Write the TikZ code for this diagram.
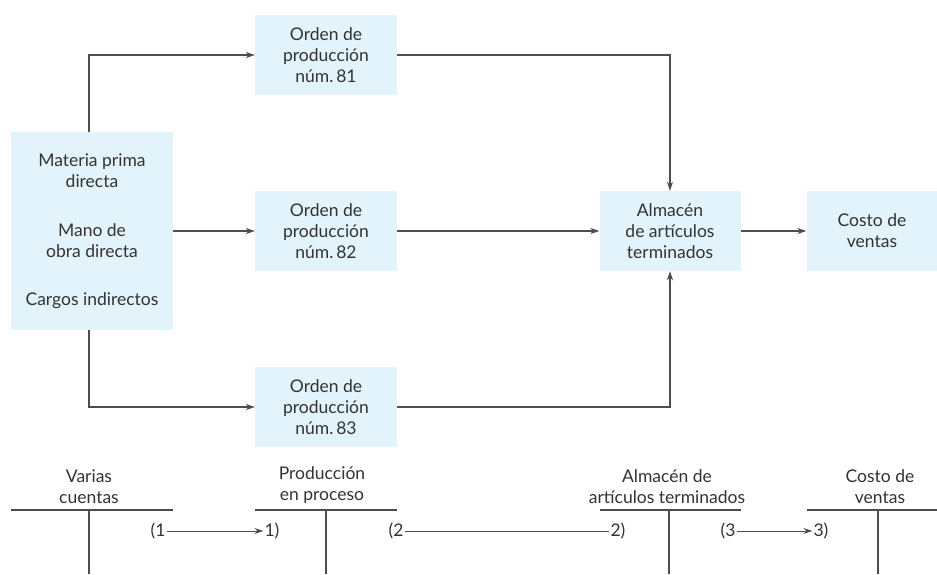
\documentclass[tikz,border=0pt]{standalone}
\usepackage{fontspec}
\setmainfont{Lato}
\usetikzlibrary{arrows.meta}
\definecolor{boxblue}{HTML}{E2F3FB}
\definecolor{ink}{HTML}{333333}
\definecolor{wire}{HTML}{4D4D4D}
\begin{document}
\begin{tikzpicture}[x=1pt,y=-1pt,
  every node/.style={text=ink,font=\fontsize{17.5}{21}\selectfont},
  blk/.style={fill=boxblue,inner sep=0pt,align=center,minimum width=142pt,minimum height=80pt},
  arr/.style={draw=wire,line width=1.3pt,-{Stealth[length=9pt,width=6pt]}},
  ln/.style={draw=wire,line width=1.3pt},
  lbl/.style={inner sep=0pt,align=center},
  tag/.style={inner sep=1pt}]
\useasboundingbox (0,0) rectangle (937,574);

% cost flow boxes
\node[blk,minimum width=162pt,minimum height=198pt] (src) at (92,231)
  {Materia prima\\directa\\[28pt]Mano de\\obra directa\\[27pt]Cargos indirectos};
\node[blk] (o81) at (326,55) {Orden de\\producción\\núm.\,81};
\node[blk] (o82) at (326,231) {Orden de\\producción\\núm.\,82};
\node[blk] (o83) at (326,407) {Orden de\\producción\\núm.\,83};
\node[blk,minimum width=141pt] (alm) at (670,231) {Almacén\\de artículos\\terminados};
\node[blk,minimum width=131pt] (cv) at (872,231) {Costo de\\ventas};

% connectors between boxes
\draw[arr] ([xshift=-3pt]src.north) |- (o81.west);
\draw[arr] (src.east) -- (o82.west);
\draw[arr] ([xshift=-3pt]src.south) |- (o83.west);
\draw[arr] (o81.east) -| (alm.north);
\draw[arr] (o82.east) -- (alm.west);
\draw[arr] (o83.east) -| (alm.south);
\draw[arr] (alm.east) -- (cv.west);

% T-accounts
\coordinate (t1l) at (11,510);  \coordinate (t1r) at (173,510);
\coordinate (t2l) at (255,510); \coordinate (t2r) at (397,510);
\coordinate (t3l) at (600,510); \coordinate (t3r) at (741,510);
\coordinate (t4l) at (807,510); \coordinate (t4r) at (937,510);
\coordinate (t1b) at (89,574);  \coordinate (t1t) at (89,510);
\coordinate (t2b) at (326,574); \coordinate (t2t) at (326,510);
\coordinate (t3b) at (669,574); \coordinate (t3t) at (669,510);
\coordinate (t4b) at (878,574); \coordinate (t4t) at (878,510);
\draw[ln] (t1l) -- (t1r) (t1t) -- (t1b);
\draw[ln] (t2l) -- (t2r) (t2t) -- (t2b);
\draw[ln] (t3l) -- (t3r) (t3t) -- (t3b);
\draw[ln] (t4l) -- (t4r) (t4t) -- (t4b);

\node[lbl,anchor=south] at (89,504) {Varias\\cuentas};
\node[lbl,anchor=south] at (322,504) {Producción\\en proceso};
\node[lbl,anchor=south] at (667,504) {Almacén de\\artículos terminados};
\node[lbl,anchor=south] at (880,504) {Costo de\\ventas};

% postings
\node[tag] (a1) at (158,531) {(1};
\node[tag] (b1) at (272,531) {1)};
\node[tag] (a2) at (396,531) {(2};
\node[tag] (b2) at (618,531) {2)};
\node[tag] (a3) at (728,531) {(3};
\node[tag] (b3) at (821,531) {3)};
\draw[arr,line width=1pt] (a1.east) -- (b1.west);
\draw[ln,line width=1pt] (a2.east) -- (b2.west);
\draw[arr,line width=1pt] (a3.east) -- (b3.west);
\end{tikzpicture}
\end{document}
